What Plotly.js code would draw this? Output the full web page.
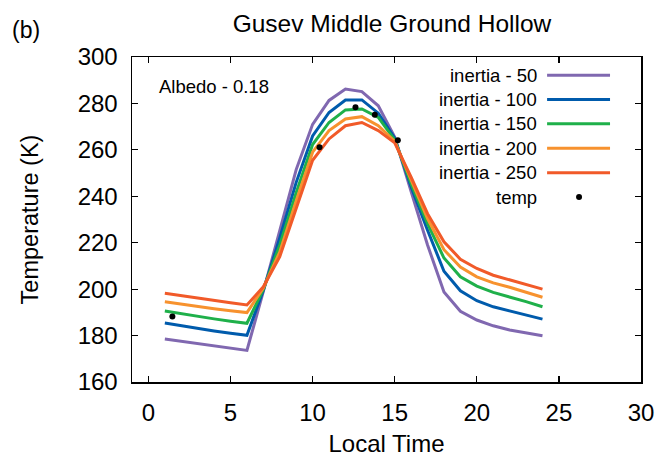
<!DOCTYPE html>
<html>
<head>
<meta charset="utf-8">
<script src="https://cdn.plot.ly/plotly-3.0.1.min.js"></script>
<style>html,body{margin:0;padding:0;background:#fff;}#chart{width:669px;height:457px;}</style>
</head>
<body>
<div id="chart"></div>
<script>
// ---- data ----
const hours = [1,2,3,4,5,6,7,8,9,10,11,12,13,14,15,16,17,18,19,20,21,22,23,24];
const inertia50  = [178.5,177.5,176.5,175.5,174.4,173.6,199.0,225.0,251.5,271.0,281.3,286.2,285.1,279.0,265.5,242.0,219.0,198.8,190.5,186.7,184.2,182.4,181.0,179.9];
const inertia100 = [185.4,184.2,183.1,182.0,181.0,180.1,199.5,222.0,246.0,266.0,276.1,281.5,281.5,275.8,265.0,244.0,225.4,207.7,199.3,195.0,192.4,190.6,188.9,187.1];
const inertia150 = [190.6,189.4,188.3,187.2,186.2,185.3,200.0,219.0,241.5,262.3,271.8,277.2,277.6,274.0,264.3,245.4,228.2,213.4,205.3,201.3,198.6,196.7,194.6,192.4];
const inertia200 = [194.6,193.5,192.5,191.6,190.7,189.9,200.5,216.0,238.0,259.0,268.3,273.3,274.3,270.4,263.7,246.8,230.4,217.0,209.5,205.3,202.7,200.8,198.5,196.5];
const inertia250 = [198.2,197.1,196.0,195.0,194.1,193.2,201.0,214.0,235.0,255.5,264.7,270.4,271.8,268.3,263.0,248.2,232.5,220.4,212.9,208.9,206.0,203.9,201.8,200.0];
const tempTime  = [1.46,10.42,12.61,13.79,15.19];
const tempValue = [188.2,261.1,278.3,275.1,264.1];
const seriesNames = ["inertia - 50","inertia - 100","inertia - 150","inertia - 200","inertia - 250"];
const pointName = "temp";
const xTicks = [0,5,10,15,20,25,30];
const yTicks = [160,180,200,220,240,260,280,300];

// ---- styles ----
const colors = ["#8068b0","#005bac","#1fb04a","#f7922e","#f15a29"];
const FONT = "Liberation Sans, Arial, Helvetica, sans-serif";
const seriesValues = [inertia50, inertia100, inertia150, inertia200, inertia250];

const traces = seriesValues.map((v,i)=>({
  x: hours, y: v, type:"scatter", mode:"lines", name: seriesNames[i],
  line:{color:colors[i], width:3}, showlegend:false
}));
traces.push({x: tempTime, y: tempValue, type:"scatter", mode:"markers", name: pointName,
  marker:{color:"#000", size:6}, showlegend:false});

// custom legend (text right-aligned, sample to the right, gnuplot style)
const W=669,H=457,L=131.5,R=28,T=56.7,B=75.3;
const pw=W-L-R, ph=H-T-B;
const px2x = p => (p-L)/pw;
const py2y = p => (H-B-p)/ph;
const rowY = [75,99.3,123.5,148,172.5,196.7];
const annotations = [];
const shapes = [];
const allNames = seriesNames.concat([pointName]);
allNames.forEach((n,i)=>{
  annotations.push({xref:"paper",yref:"paper",x:px2x(539),y:py2y(rowY[i]),text:n,showarrow:false,
    xanchor:"right",yanchor:"middle",font:{family:FONT,size:18.5,color:"#000"}});
  if(i<seriesNames.length){
    shapes.push({type:"line",xref:"paper",yref:"paper",x0:px2x(547),x1:px2x(610),y0:py2y(rowY[i]),y1:py2y(rowY[i]),
      line:{color:colors[i],width:3}});
  } else {
    shapes.push({type:"circle",xref:"paper",yref:"paper",x0:px2x(576),x1:px2x(582),y0:py2y(rowY[i]+3),y1:py2y(rowY[i]-3),
      fillcolor:"#000",line:{color:"#000",width:0}});
  }
});
annotations.push({xref:"paper",yref:"paper",x:px2x(157),y:py2y(86),text:"Albedo - 0.18",showarrow:false,
  xanchor:"left",yanchor:"middle",font:{family:FONT,size:18.5,color:"#000"}});
annotations.push({xref:"paper",yref:"paper",x:px2x(9),y:py2y(30),text:"(b)",showarrow:false,
  xanchor:"left",yanchor:"middle",font:{family:FONT,size:23,color:"#000"}});

const axisCommon = {showgrid:false, zeroline:false, showline:true, mirror:"ticks", linecolor:"#000", linewidth:1.5,
  ticks:"inside", ticklen:6, tickwidth:1.2, tickcolor:"#000", tickfont:{family:FONT,size:24,color:"#000"}};

const layout = {
  width:W, height:H, margin:{l:L,r:R,t:T,b:B}, paper_bgcolor:"#fff", plot_bgcolor:"#fff",
  title:{text:"Gusev Middle Ground Hollow", font:{family:FONT,size:24.5,color:"#000"}, xref:"container", x:392/W, xanchor:"center", y:1-23/H, yanchor:"middle"},
  xaxis:Object.assign({}, axisCommon, {range:[-1,30], tickvals:xTicks, ticktext:xTicks.map(String), ticklabelstandoff:9,
     title:{text:"Local Time", font:{family:FONT,size:24,color:"#000"}, standoff:12}}),
  yaxis:Object.assign({}, axisCommon, {range:[160,300], tickvals:yTicks, ticktext:yTicks.map(String), ticklabelstandoff:8,
     title:{text:"Temperature (K)", font:{family:FONT,size:23.5,color:"#000"}, standoff:32}}),
  annotations: annotations, shapes: shapes, showlegend:false
};
Plotly.newPlot("chart", traces, layout, {displayModeBar:false, staticPlot:true});
</script>
</body>
</html>
